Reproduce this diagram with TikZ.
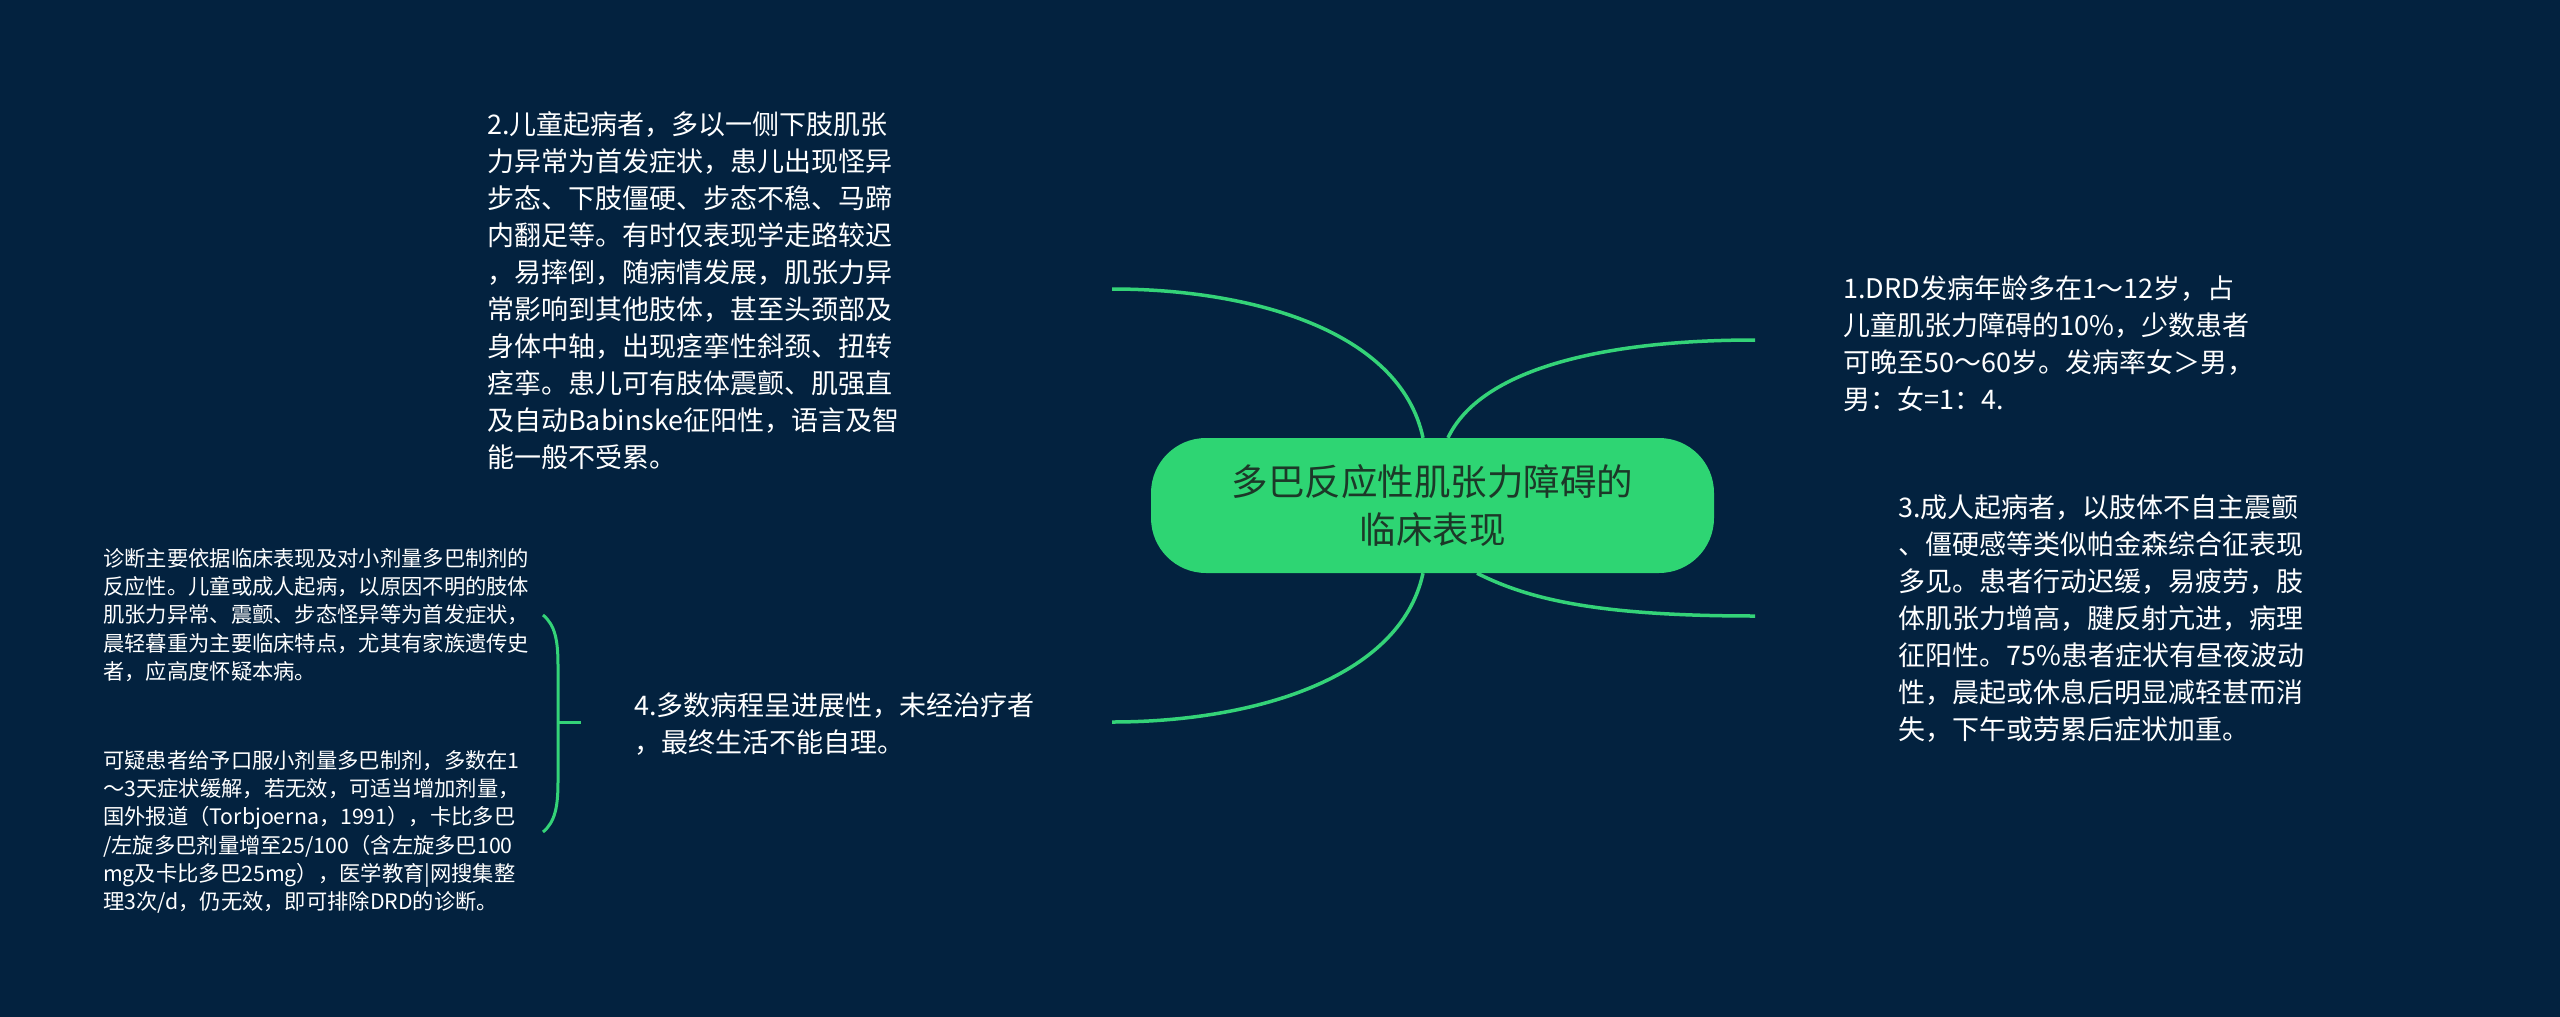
\documentclass[tikz,border=0pt]{standalone}
\usepackage{fontspec}
\setmainfont{Noto Sans CJK SC}
\definecolor{bg}{RGB}{3,34,63}
\definecolor{lime}{RGB}{46,213,115}
\definecolor{branchc}{RGB}{52,211,120}
\definecolor{centertext}{RGB}{28,56,40}
\begin{document}
\begin{tikzpicture}[x=1pt,y=-1pt,
  branch/.style={draw=branchc,line width=3.5pt},
  bracestyle/.style={draw=branchc,line width=3pt},
  txt/.style={text=white,align=left,inner sep=0pt,anchor=north west,font=\fontsize{27}{37}\selectfont},
  smalltxt/.style={text=white,align=left,inner sep=0pt,anchor=north west,font=\fontsize{21.3}{28.3}\selectfont},
  root/.style={fill=lime,rounded corners=55pt,minimum width=563pt,minimum height=135pt,inner sep=0pt,align=center,text=centertext,font=\fontsize{36.5}{48}\selectfont}]
\fill[bg] (0,0) rectangle (2560,1017);
\useasboundingbox (0,0) rectangle (2560,1017);

% central node
\node[root] (c) at (1432.5,505.5) {多巴反应性肌张力障碍的\\临床表现};

% branch text nodes
\node[txt] (n2) at (487,111) {2.儿童起病者，多以一侧下肢肌张\\力异常为首发症状，患儿出现怪异\\步态、下肢僵硬、步态不稳、马蹄\\内翻足等。有时仅表现学走路较迟\\，易摔倒，随病情发展，肌张力异\\常影响到其他肢体，甚至头颈部及\\身体中轴，出现痉挛性斜颈、扭转\\痉挛。患儿可有肢体震颤、肌强直\\及自动Babinske征阳性，语言及智\\能一般不受累。};

\node[txt] (n1) at (1843,275) {1.DRD发病年龄多在1～12岁，占\\儿童肌张力障碍的10\%，少数患者\\可晚至50～60岁。发病率女＞男，\\男：女=1：4.};

\node[txt] (n3) at (1898,495) {3.成人起病者，以肢体不自主震颤\\、僵硬感等类似帕金森综合征表现\\多见。患者行动迟缓，易疲劳，肢\\体肌张力增高，腱反射亢进，病理\\征阳性。75\%患者症状有昼夜波动\\性，晨起或休息后明显减轻甚而消\\失，下午或劳累后症状加重。};

\node[txt] (n4) at (634,693) {4.多数病程呈进展性，未经治疗者\\，最终生活不能自理。};

% sub nodes of 4
\node[smalltxt] (a4) at (103,548) {诊断主要依据临床表现及对小剂量多巴制剂的\\反应性。儿童或成人起病，以原因不明的肢体\\肌张力异常、震颤、步态怪异等为首发症状，\\晨轻暮重为主要临床特点，尤其有家族遗传史\\者，应高度怀疑本病。};

\node[smalltxt] (b4) at (103,750) {可疑患者给予口服小剂量多巴制剂，多数在1\\～3天症状缓解，若无效，可适当增加剂量，\\国外报道（Torbjoerna，1991），卡比多巴\\/左旋多巴剂量增至25/100（含左旋多巴100\\mg及卡比多巴25mg），医学教育|网搜集整\\理3次/d，仍无效，即可排除DRD的诊断。};

% connector ends
\coordinate (e2) at (1112,289);
\coordinate (e1) at (1755,340);
\coordinate (e3) at (1755,616);
\coordinate (e4) at (1112,722);
\coordinate (bt) at (581,722);
\coordinate (bm) at (558,722);
\coordinate (btop) at (543,615);
\coordinate (bbot) at (543,832);

% branches
\draw[branch] ([xshift=-9.5pt]c.north) .. controls (1400,330) and (1250,289) .. (e2);
\draw[branch] ([xshift=15.5pt]c.north) .. controls (1480,370) and (1600,340) .. (e1);
\draw[branch] ([xshift=44.5pt]c.south) .. controls (1530,600) and (1600,616) .. (e3);
\draw[branch] ([xshift=-9.5pt]c.south) .. controls (1400,680) and (1250,722) .. (e4);

% brace grouping the sub nodes
\draw[bracestyle] (btop) .. controls (555,625) and (558,640) .. (558,665) -- (558,782) .. controls (558,807) and (555,822) .. (bbot);
\draw[bracestyle] (bm) -- (bt);
\end{tikzpicture}
\end{document}
